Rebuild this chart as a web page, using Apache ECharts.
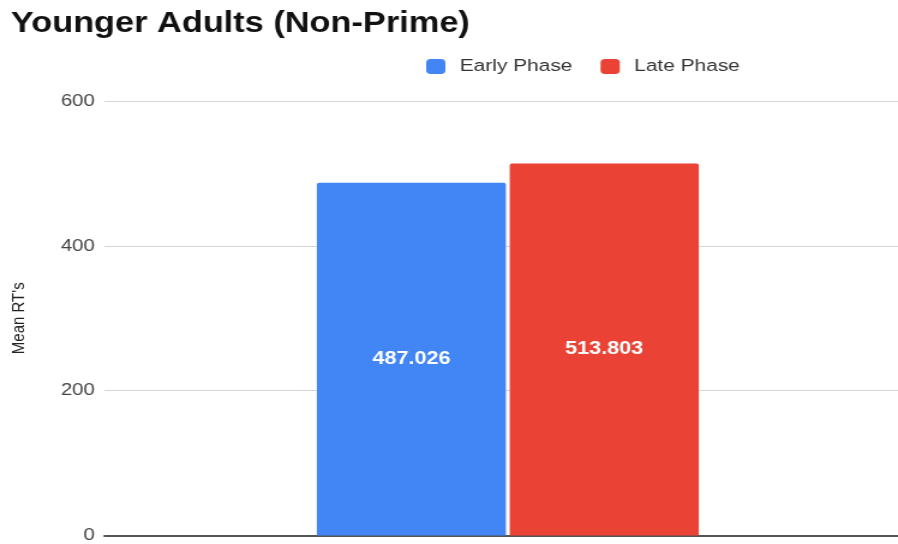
<!DOCTYPE html>
<html>
<head>
<meta charset="utf-8">
<script src="https://cdn.jsdelivr.net/npm/echarts@6/dist/echarts.min.js"></script>
<style>
  html, body { margin: 0; padding: 0; background: #fff; overflow: hidden; }
  #wrap { width: 898px; height: 544px; overflow: hidden; }
  /* the chart is laid out narrower and widened so its lettering comes out broad;
     its right end runs past the visible edge */
  #chart { width: 760px; height: 544px; transform: scaleX(1.2005); transform-origin: 0 0; }
</style>
</head>
<body>
<div id="wrap"><div id="chart"></div></div>
<script>
const categories = [''];
const earlyPhase = [487.026];
const latePhase = [513.803];
const yTicks = [0, 200, 400, 600];

const chart = echarts.init(document.getElementById('chart'), null, { renderer: 'canvas' });

const labelStyle = {
  show: true,
  position: 'inside',
  color: '#ffffff',
  fontWeight: 'bold',
  fontSize: 18,
  fontFamily: 'Liberation Sans, Arial, sans-serif',
  formatter: p => p.value.toFixed(3)
};

chart.setOption({
  animation: false,
  backgroundColor: '#ffffff',
  title: {
    text: 'Younger Adults (Non-Prime)',
    left: 4,
    top: 5,
    textStyle: {
      fontFamily: 'Liberation Sans, Arial, sans-serif',
      fontWeight: 'bold',
      fontSize: 28.6,
      color: '#111111'
    }
  },
  legend: {
    top: 53,
    left: 350,
    itemWidth: 16,
    itemHeight: 15,
    itemGap: 23.5,
    icon: 'roundRect',
    textStyle: {
      fontFamily: 'Liberation Sans, Arial, sans-serif',
      fontSize: 17.4,
      color: '#333333',
      padding: [0, 0, 0, 7]
    },
    data: ['Early Phase', 'Late Phase']
  },
  grid: { left: 87, right: 1, top: 101, bottom: 7, containLabel: false },
  xAxis: {
    type: 'category',
    data: categories,
    axisLine: { show: true, lineStyle: { color: '#555555', width: 2 } },
    axisTick: { show: false },
    axisLabel: { show: false }
  },
  yAxis: {
    type: 'value',
    min: yTicks[0],
    max: yTicks[yTicks.length - 1],
    interval: yTicks[1] - yTicks[0],
    name: "Mean RT's",
    nameLocation: 'middle',
    nameRotate: 90,
    nameGap: 64,
    nameTextStyle: {
      fontFamily: 'Liberation Sans, Arial, sans-serif',
      fontSize: 15,
      color: '#222222'
    },
    axisLine: { show: false },
    axisTick: { show: false },
    axisLabel: {
      margin: 8,
      fontFamily: 'Liberation Sans, Arial, sans-serif',
      fontSize: 17,
      color: '#444444'
    },
    splitLine: { lineStyle: { color: '#d6d6d6', width: 1 } }
  },
  series: [
    {
      name: 'Early Phase',
      type: 'bar',
      data: earlyPhase,
      barWidth: 157.5,
      barGap: '2%',
      itemStyle: { color: '#4285F4', borderRadius: [2, 2, 0, 0] },
      label: labelStyle
    },
    {
      name: 'Late Phase',
      type: 'bar',
      data: latePhase,
      barWidth: 157.5,
      itemStyle: { color: '#EA4335', borderRadius: [2, 2, 0, 0] },
      label: labelStyle
    }
  ]
});
</script>
</body>
</html>
